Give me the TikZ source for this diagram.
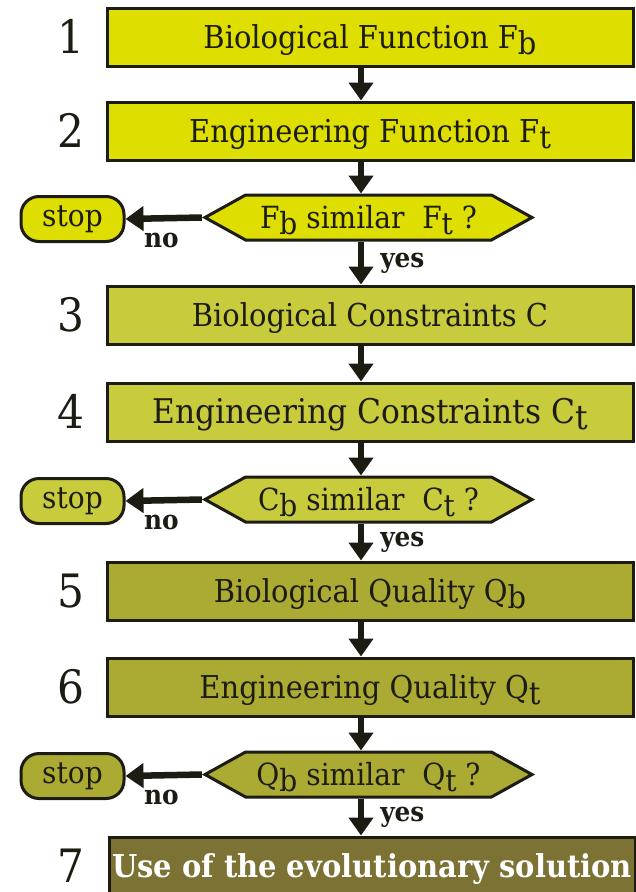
\documentclass[tikz,border=0pt]{standalone}
\usepackage{fontspec}
\setmainfont{DejaVu Serif}[FakeStretch=0.92]
\usetikzlibrary{arrows.meta,shapes.symbols}

\definecolor{ink}{HTML}{1C1C12}
\definecolor{lemon}{HTML}{DEDE00}
\definecolor{lime}{HTML}{C8CC3C}
\definecolor{moss}{HTML}{ABAB33}
\definecolor{olive}{HTML}{7B7233}

% lowered index letter (F_b, C_t, ...)
\newcommand{\sbx}[1]{\raisebox{-6pt}{#1}}

\tikzset{
  stepbox/.style={draw=ink, line width=3pt, minimum width=526pt, minimum height=58pt,
    inner sep=0pt, text height=23pt, text depth=0pt, text=ink,
    font=\fontsize{31.5}{34}\selectfont},
  test/.style={shape=signal, signal to=west and east, signal pointer angle=58,
    draw=ink, line width=3pt, minimum width=327pt, minimum height=45pt,
    inner sep=0pt, text height=21pt, text depth=0pt, text=ink,
    font=\fontsize{30.5}{32}\selectfont},
  halt/.style={draw=ink, line width=3pt, rounded corners=18pt, minimum width=103pt,
    minimum height=45pt, inner sep=0pt, text=ink, font=\fontsize{30.5}{32}\selectfont},
  num/.style={inner sep=0pt, text height=33pt, text depth=0pt, text=ink,
    font=\fontsize{46}{48}\selectfont},
  flow/.style={draw=ink, line width=6.5pt, -{Triangle[length=18pt,width=24pt]}},
  answer/.style={inner sep=0pt, text=ink, font=\bfseries\fontsize{27}{28}\selectfont},
}

\begin{document}
\begin{tikzpicture}[x=1pt, y=-1pt]
  \useasboundingbox (0,0) rectangle (635,892);
  \coordinate (ax) at (361,0);
  \coordinate (nx) at (71,0);

  % steps
  \node[stepbox, fill=lemon] (b1) at (370,37) {Biological Function F\sbx{b}};
  \node[stepbox, fill=lemon] (b2) at (370,131) {Engineering Function F\sbx{t}};
  \node[stepbox, fill=lime] (b3) at (370,315) {Biological Constraints C};
  \node[stepbox, fill=lime, font=\fontsize{34}{36}\selectfont]
    (b4) at (370,412) {Engineering Constraints C\sbx{t}};
  \node[stepbox, fill=moss] (b5) at (370,591) {Biological Quality Q\sbx{b}};
  \node[stepbox, fill=moss] (b6) at (370,687) {Engineering Quality Q\sbx{t}};
  \node[stepbox, fill=olive, text=white, font=\bfseries\fontsize{31.5}{33}\selectfont]
    (b7) at (372,866) {Use of the evolutionary solution};

  \foreach \i in {1,...,7}
    \node[num] (n\i) at (b\i.west -| nx) {\i};

  % checks
  \node[test, fill=lemon] (d1) at (368.5,217.5) {F\sbx{b} similar\ \ F\sbx{t} ?};
  \node[test, fill=lime] (d2) at (368.5,499.5) {C\sbx{b} similar\ \ C\sbx{t} ?};
  \node[test, fill=moss] (d3) at (368.5,774.5) {Q\sbx{b} similar\ \ Q\sbx{t} ?};

  \node[halt, fill=lemon] (s1) at (72.5,219) {stop};
  \node[halt, fill=lime] (s2) at (72.5,501) {stop};
  \node[halt, fill=moss] (s3) at (72.5,776) {stop};

  % main line
  \draw[flow] (b1.south -| ax) -- (b2.north -| ax);
  \draw[flow] (b2.south -| ax) -- (d1.north -| ax);
  \draw[flow] (d1.south -| ax) -- node[answer, right=16pt] {yes} (b3.north -| ax);
  \draw[flow] (b3.south -| ax) -- (b4.north -| ax);
  \draw[flow] (b4.south -| ax) -- (d2.north -| ax);
  \draw[flow] (d2.south -| ax) -- node[answer, right=16pt] {yes} (b5.north -| ax);
  \draw[flow] (b5.south -| ax) -- (b6.north -| ax);
  \draw[flow] (b6.south -| ax) -- (d3.north -| ax);
  \draw[flow] (d3.south -| ax) -- node[answer, right=16pt] {yes} (b7.north -| ax);

  % rejections
  \draw[flow] (d1.west) -- node[answer, pos=0.53, below=12pt] {no} (s1.east);
  \draw[flow] (d2.west) -- node[answer, pos=0.53, below=12pt] {no} (s2.east);
  \draw[flow] (d3.west) -- node[answer, pos=0.53, below=12pt] {no} (s3.east);
\end{tikzpicture}
\end{document}
